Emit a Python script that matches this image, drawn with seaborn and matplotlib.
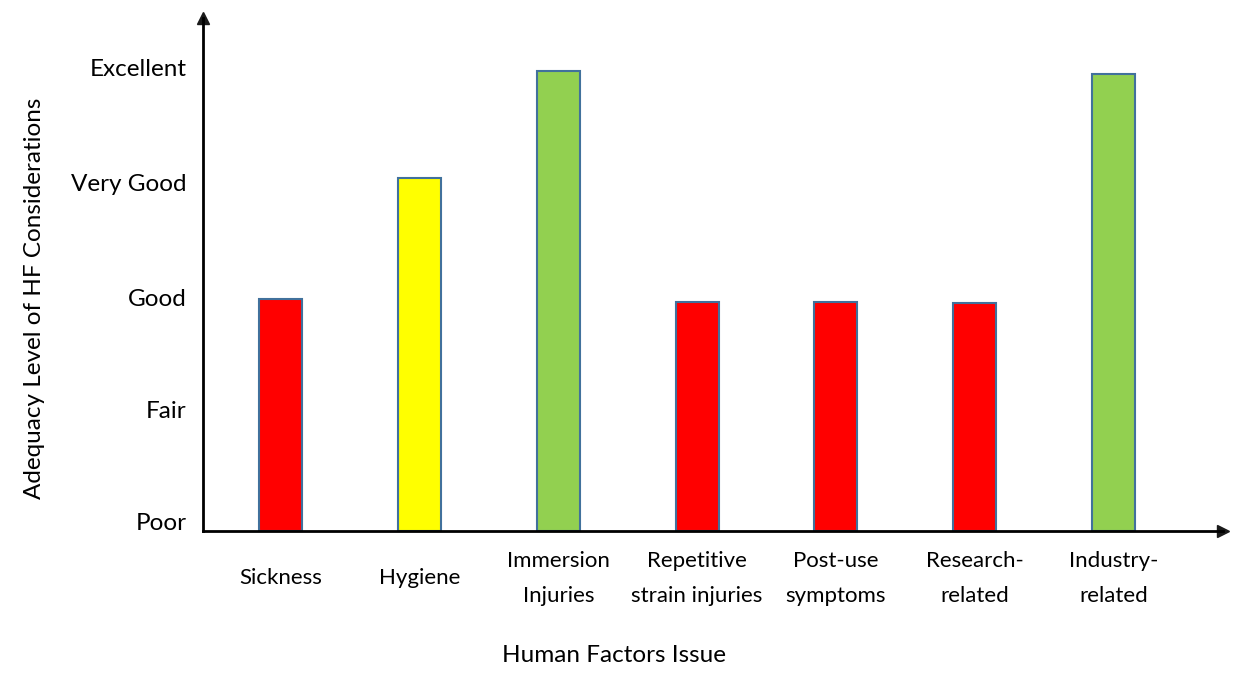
import matplotlib
matplotlib.use("Agg")
import matplotlib.pyplot as plt
import seaborn as sns
import pandas as pd

categories = ["Sickness", "Hygiene", "Immersion\nInjuries", "Repetitive\nstrain injuries",
              "Post-use\nsymptoms", "Research-\nrelated", "Industry-\nrelated"]
values = [2.0, 3.05, 3.97, 1.98, 1.98, 1.97, 3.95]
bar_colors = ["#FF0000", "#FFFF00", "#92D050", "#FF0000", "#FF0000", "#FF0000", "#92D050"]
level_labels = ["Poor", "Fair", "Good", "Very Good", "Excellent"]
level_positions = [0.08, 1.05, 2.02, 3.01, 4.0]

sns.set_theme(style="white")
plt.rcParams["font.family"] = ["Lato", "DejaVu Sans"]
plt.rcParams["text.color"] = "black"
plt.rcParams["axes.labelcolor"] = "black"
plt.rcParams["xtick.color"] = "black"
plt.rcParams["ytick.color"] = "black"

fig = plt.figure(figsize=(12.57, 6.85), dpi=100)
ax = fig.add_axes([0.1615, 0.2248, 0.973 - 0.1615, 0.9737 - 0.2248])

df = pd.DataFrame({"cat": categories, "val": values})
sns.barplot(data=df, x="cat", y="val", hue="cat", palette=bar_colors, legend=False,
            width=0.31, edgecolor="#41719C", linewidth=1.5, saturation=1, ax=ax)

ax.set_xlim(-0.56, 6.79)
ax.set_ylim(0, 4.43)
ax.set_yticks(level_positions)
ax.set_yticklabels(level_labels, fontsize=17.5)
ax.tick_params(axis="y", length=0, pad=12)
ax.set_xticks(range(len(categories)))
ax.set_xticklabels(categories, fontsize=16, va="center", linespacing=1.92)
ax.tick_params(axis="x", length=0, pad=34)

for s in ["top", "right"]:
    ax.spines[s].set_visible(False)
for s in ["left", "bottom"]:
    ax.spines[s].set_color("black")
    ax.spines[s].set_linewidth(2)

ax.plot(1, 0, ">k", markersize=9, transform=ax.transAxes, clip_on=False)
ax.plot(0, 1, "^k", markersize=9, transform=ax.transAxes, clip_on=False)

ax.set_xlabel("Human Factors Issue", fontsize=17.5)
ax.set_ylabel("Adequacy Level of HF Considerations", fontsize=17.5)
ax.xaxis.set_label_coords(0.403, -0.223)
ax.yaxis.set_label_coords(-0.155, 0.454)

fig.savefig("out.png", dpi=100)
